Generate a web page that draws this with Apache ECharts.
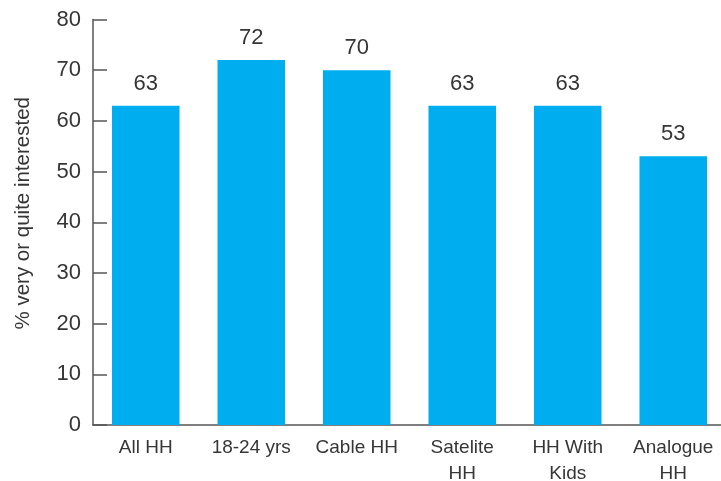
<!DOCTYPE html>
<html>
<head>
<meta charset="utf-8">
<script src="https://cdn.jsdelivr.net/npm/echarts@6/dist/echarts.min.js"></script>
<style>
  html, body { margin: 0; padding: 0; background: #fff; }
  #chart { width: 721px; height: 481px; }
</style>
</head>
<body>
<div id="chart"></div>
<script>
// Household groups and share that are very or quite interested (%)
const categories = ['All HH', '18-24 yrs', 'Cable HH', 'Satelite\nHH', 'HH With\nKids', 'Analogue\nHH'];
const interested = [63, 72, 70, 63, 63, 53];
const yTicks = [0, 10, 20, 30, 40, 50, 60, 70, 80];

const axisColor = '#555555';
const textColor = '#363636';
const fontFamily = 'Liberation Sans, Arial, sans-serif';

const chart = echarts.init(document.getElementById('chart'), null, { renderer: 'canvas' });
chart.setOption({
  animation: false,
  grid: { left: 93, right: -5, top: 19.5, bottom: 56, outerBoundsMode: 'none', containLabel: false },
  xAxis: {
    type: 'category',
    data: categories,
    boundaryGap: true,
    axisLine: { lineStyle: { color: axisColor, width: 1.5 } },
    axisTick: { inside: true, length: 10, alignWithLabel: false, lineStyle: { color: axisColor, width: 1.5 } },
    axisLabel: { color: textColor, fontSize: 19, fontFamily, margin: 10, lineHeight: 26, interval: 0 }
  },
  yAxis: {
    type: 'value',
    min: yTicks[0],
    max: yTicks[yTicks.length - 1],
    interval: 10,
    name: '% very or quite interested',
    nameLocation: 'middle',
    nameGap: 59,
    nameTextStyle: { color: textColor, fontSize: 20.5, fontFamily, padding: [0, 0, 0, 18] },
    splitLine: { show: false },
    axisLine: { show: true, lineStyle: { color: axisColor, width: 1.5 } },
    axisTick: { show: true, inside: true, length: 14, lineStyle: { color: axisColor, width: 1.5 } },
    axisLabel: { color: textColor, fontSize: 22, fontFamily, margin: 12 }
  },
  series: [{
    type: 'bar',
    data: interested,
    barWidth: '64%',
    itemStyle: { color: '#00AEEF' },
    label: { show: true, position: 'top', distance: 11, color: textColor, fontSize: 22, fontFamily }
  }]
});
</script>
</body>
</html>
